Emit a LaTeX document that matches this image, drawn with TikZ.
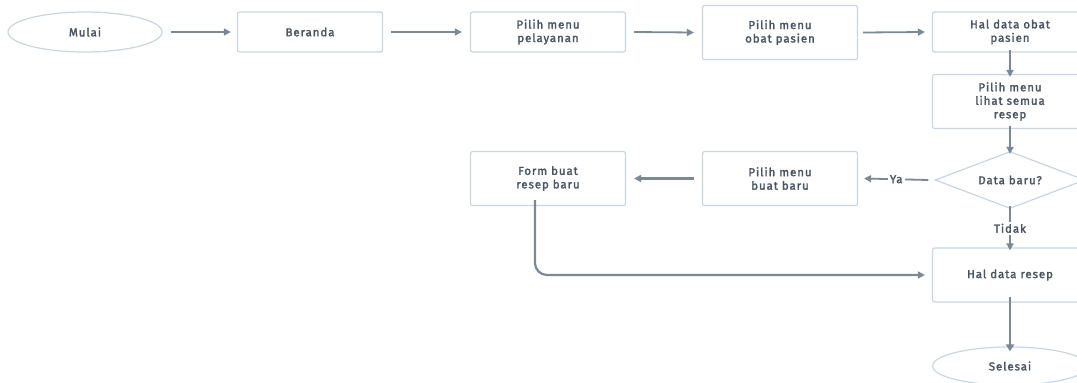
\documentclass[tikz,border=0pt]{standalone}
\usepackage{fontspec}
\setmainfont{Fira Sans}[LetterSpace=8,FakeBold=2]
\usetikzlibrary{shapes.geometric,arrows.meta}
\definecolor{bord}{HTML}{C9D5E1}
\definecolor{arr}{HTML}{7B8896}
\definecolor{txt}{HTML}{4B5562}
\tikzset{
  fnt/.style={font=\fontsize{11.5}{13.5}\selectfont},
  box/.style={draw=bord,line width=1.2pt,rounded corners=2pt,fill=white,text=txt,align=center,
    minimum width=150pt,minimum height=40pt,inner sep=2pt,fnt},
  tall/.style={box,minimum height=54pt},
  term/.style={ellipse,draw=bord,line width=1.2pt,text=txt,minimum width=154pt,minimum height=40pt,
    inner sep=0pt,fnt},
  dec/.style={diamond,draw=bord,line width=1.2pt,fill=white,text=txt,minimum width=150pt,minimum height=57pt,
    aspect=2.6,inner sep=0pt,fnt},
  conn/.style={draw=arr,line width=1.8pt,-{Triangle[length=7pt,width=7pt]}},
  thick conn/.style={draw=arr,line width=2.8pt,-{Triangle[length=7pt,width=8pt]}},
  lbl/.style={fill=white,text=txt,inner sep=2pt,fnt}
}
\begin{document}
\begin{tikzpicture}[x=1pt,y=-1pt]
\useasboundingbox (0,0) rectangle (1077,383);
\clip (0,0) rectangle (1077,383);
\node[term] (mulai) at (85,32) {Mulai};
\node[box,minimum width=145pt] (beranda) at (310,32) {Beranda};
\node[box,minimum width=155pt] (pelayanan) at (548,32) {Pilih menu\\pelayanan};
\node[tall,minimum width=155pt] (obat) at (780,32.5) {Pilih menu\\obat pasien};
\node[box,minimum width=155pt] (haldata) at (1010,32) {Hal data obat\\pasien};
\node[tall,minimum width=155pt] (lihat) at (1010,101.5) {Pilih menu\\lihat semua\\resep};
\node[dec] (baru) at (1010,180) {Data baru?};
\node[tall,minimum width=155pt] (buat) at (780,178.5) {Pilih menu\\buat baru};
\node[tall,minimum width=155pt] (form) at (548,178.5) {Form buat\\resep baru};
\node[tall,minimum width=155pt] (resep) at (1010,275) {Hal data resep};
\node[term,minimum width=155pt,minimum height=38pt] (selesai) at (1010,366) {Selesai};

\draw[conn] ([xshift=8pt]mulai.east) -- ([xshift=-6pt]beranda.west);
\draw[conn] ([xshift=8pt]beranda.east) -- ([xshift=-8pt]pelayanan.west);
\draw[conn] ([xshift=8pt]pelayanan.east) -- ([xshift=-8pt]obat.west);
\draw[conn] ([xshift=5pt]obat.east) -- ([xshift=-7pt]haldata.west);
\draw[conn] ([yshift=3pt]haldata.south) -- ([yshift=-3pt]lihat.north);
\draw[conn] ([yshift=3pt]lihat.south) -- ([yshift=-3pt]baru.north);
\draw[conn] ([xshift=-6pt]baru.west) -- node[lbl]{Ya} ([xshift=6pt]buat.east);
\draw[conn,line width=2.3pt] ([xshift=-8pt]buat.west) -- ([xshift=8pt]form.east);
\draw[conn] ([yshift=3pt]baru.south) -- node[lbl]{Tidak} ([yshift=-3pt]resep.north);
\draw[conn,rounded corners=12pt,line width=2.2pt] ([xshift=-13pt,yshift=6pt]form.south) |- ([xshift=-7pt]resep.west);
\draw[thick conn] ([yshift=6pt]resep.south) -- ([yshift=-5pt]selesai.north);
\end{tikzpicture}
\end{document}
